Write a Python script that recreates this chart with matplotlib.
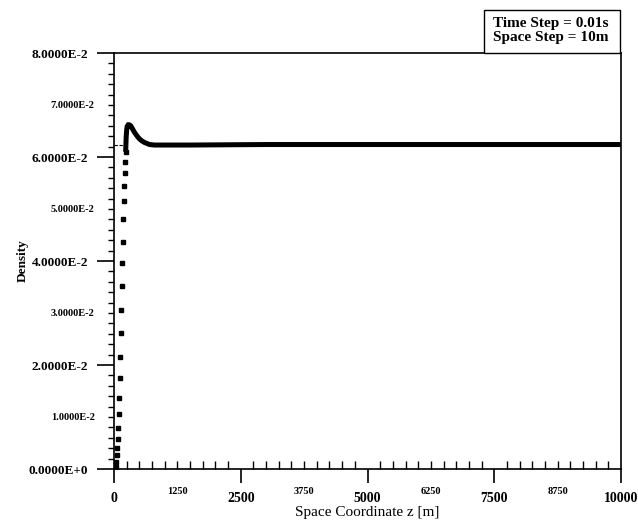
import matplotlib
matplotlib.use("Agg")
import matplotlib.pyplot as plt
from matplotlib.patches import Rectangle
from matplotlib.ticker import FixedLocator, FuncFormatter

# ---- data ----
# steep rising front (individual solution points, drawn as markers)
z_front = [30, 40, 50, 60, 70, 80, 90, 100, 110, 120, 130, 140, 150, 160, 170,
           180, 190, 200, 210, 220, 230]
rho_front = [0.0004, 0.0014, 0.0027, 0.0041, 0.0057, 0.0078, 0.0106, 0.0137,
             0.0175, 0.0215, 0.0261, 0.0306, 0.0352, 0.0396, 0.0437, 0.0480,
             0.0516, 0.0544, 0.0570, 0.0591, 0.0610]

# overshoot and plateau (dense points drawn as a thick trace)
z_main = [230, 240, 250, 260, 280, 300, 330, 360, 400, 450, 500, 550, 600, 650,
          700, 800, 1500, 3000, 5000, 7500, 10000]
rho_main = [0.0610, 0.0638, 0.0652, 0.0659, 0.0662, 0.0662, 0.0660, 0.0655,
            0.0648, 0.0641, 0.0635, 0.0631, 0.0628, 0.0626, 0.0624, 0.0623,
            0.0623, 0.0624, 0.0624, 0.0624, 0.0624]

# boundary value at inflow
z_bound = [0, 230]
rho_bound = [0.0624, 0.0624]

x_major = [0, 2500, 5000, 7500, 10000]
x_major_labels = ["0", "2500", "5000", "7500", "10000"]
x_mid_labels = {1250: "1250", 3750: "3750", 6250: "6250", 8750: "8750"}

y_major = [0.0, 0.02, 0.04, 0.06, 0.08]
y_major_labels = ["0.0000E+0", "2.0000E-2", "4.0000E-2", "6.0000E-2", "8.0000E-2"]
y_mid_labels = {0.01: "1.0000E-2", 0.03: "3.0000E-2", 0.05: "5.0000E-2", 0.07: "7.0000E-2"}

serif = ["Liberation Serif", "DejaVu Serif"]

fig = plt.figure(figsize=(6.38, 5.25), dpi=100)
ax = fig.add_axes([114 / 638, 1 - 469 / 525, (621 - 114) / 638, (469 - 53) / 525])

ax.plot(z_bound, rho_bound, color="black", lw=0.8, ls=(0, (3, 1.5)))
ax.plot(z_main, rho_main, color="black", lw=3.6, solid_capstyle="butt",
        solid_joinstyle="miter")
ax.plot(z_front, rho_front, ls="none", marker="s", ms=2.8, color="black")

ax.set_xlim(0, 10000)
ax.set_ylim(0, 0.08)

# x ticks
ax.xaxis.set_major_locator(FixedLocator(x_major))
ax.set_xticklabels(x_major_labels)
x_minor = [v for v in range(250, 10000, 250) if v % 2500 != 0]
ax.xaxis.set_minor_locator(FixedLocator(x_minor))
ax.xaxis.set_minor_formatter(FuncFormatter(lambda v, p: x_mid_labels.get(int(round(v)), "")))
ax.tick_params(axis="x", which="major", direction="out", length=10, width=1.2,
               pad=6.5, labelsize=10)
ax.tick_params(axis="x", which="minor", direction="in", length=5.5, width=1.0,
               pad=13, labelsize=7.5)

# y ticks
ax.yaxis.set_major_locator(FixedLocator(y_major))
ax.set_yticklabels(y_major_labels)
y_minor = [round(i * 0.002, 4) for i in range(1, 40) if i % 10 != 0]
ax.yaxis.set_minor_locator(FixedLocator(y_minor))
def yfmt(v, p):
    for k, s in y_mid_labels.items():
        if abs(v - k) < 1e-6:
            return s
    return ""
ax.yaxis.set_minor_formatter(FuncFormatter(yfmt))
ax.tick_params(axis="y", which="major", direction="out", length=12, width=1.2,
               pad=6.5, labelsize=9.5)
ax.tick_params(axis="y", which="minor", direction="out", length=4.5, width=1.0,
               pad=9.5, labelsize=7.5)

for lab in ax.get_xticklabels(which="both") + ax.get_yticklabels(which="both"):
    lab.set_family(serif)
    lab.set_fontweight("bold")

for s in ax.spines.values():
    s.set_linewidth(1.2)

ax.set_xlabel("Space Coordinate z [m]", family=serif, fontsize=11, labelpad=1)
ax.set_ylabel("Density", family=serif, fontsize=9.5, fontweight="bold")
ax.yaxis.set_label_coords(-0.168, 0.5)

fig.patches.append(Rectangle((484 / 638, 1 - 53 / 525), 136 / 638, 43 / 525,
                             transform=fig.transFigure, fc="white", ec="black",
                             lw=1.0, zorder=5))
fig.text(493 / 638, 1 - 31 / 525, "Time Step = 0.01s\nSpace Step = 10m",
         family=serif, fontsize=11, fontweight="bold", ha="left", va="center",
         linespacing=1.1, zorder=6)

fig.savefig("out.png", dpi=100)
